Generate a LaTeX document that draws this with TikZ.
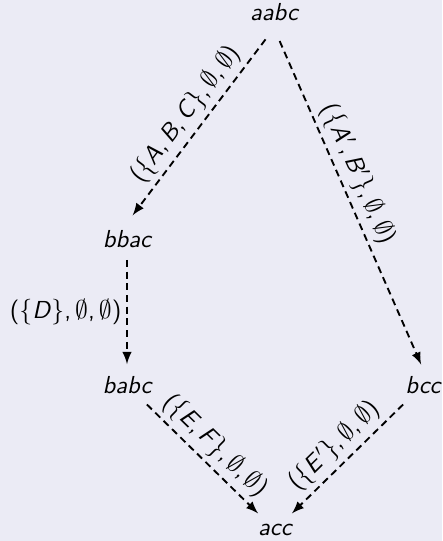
\documentclass[tikz,border=0pt]{standalone}
\usetikzlibrary{arrows}
\definecolor{slidebg}{RGB}{235,235,245}
\newcommand{\es}{\ensuremath{\emptyset}}
\newcommand{\lb}{\ensuremath{\{}}
\newcommand{\rb}{\ensuremath{\}}}

\begin{document}
\begin{tikzpicture}[x=0.015cm, y=-0.015cm]
        \tikzstyle{state}=[font=\fontsize{10.5}{12}\sffamily\itshape, inner sep=3pt]
        \tikzstyle{trans}=[-latex, thick, densely dashed, shorten >=2pt, shorten <=2pt]
        \tikzstyle{lbl}=[font=\fontsize{10.5}{12}\sffamily, sloped, above, inner sep=2pt]
        \fill [slidebg] (0,0) rectangle (442,541);
        \useasboundingbox (0,0) rectangle (442,541);
        \begin{scope}
          \node [state] (aabc) at (274,12) {aabc};
          \node [state] (bbac) at (127,239) {bbac};
          \node [state] (babc) at (127,385) {babc};
          \node [state] (bcc) at (423,385) {bcc};
          \node [state] (acc) at (275,530) {acc};
        \end{scope}
        \draw [trans, shorten <=6pt, shorten >=4pt] (aabc.south) -- node [lbl] {(\lb\textit{A},\,\textit{B},\,\textit{C}\rb,\,\es,\,\es)} (bbac.north);
        \draw [trans, shorten <=6pt] (aabc.south) -- node [lbl, pos=0.45] {(\lb\textit{A}$'$,\,\textit{B}$'$\rb,\,\es,\,\es)} (bcc.north);
        \draw [trans] (bbac) -- node [lbl, left, sloped=false] {(\lb\textit{D}\rb,\,\es,\,\es)} (babc);
        \draw [trans] (babc) -- node [lbl] {(\lb\textit{E},\,\textit{F}\rb,\,\es,\,\es)} (acc);
        \draw [trans] (bcc) -- node [lbl] {(\lb\textit{E}$'$\rb,\,\es,\,\es)} (acc);
      \end{tikzpicture}
\end{document}
